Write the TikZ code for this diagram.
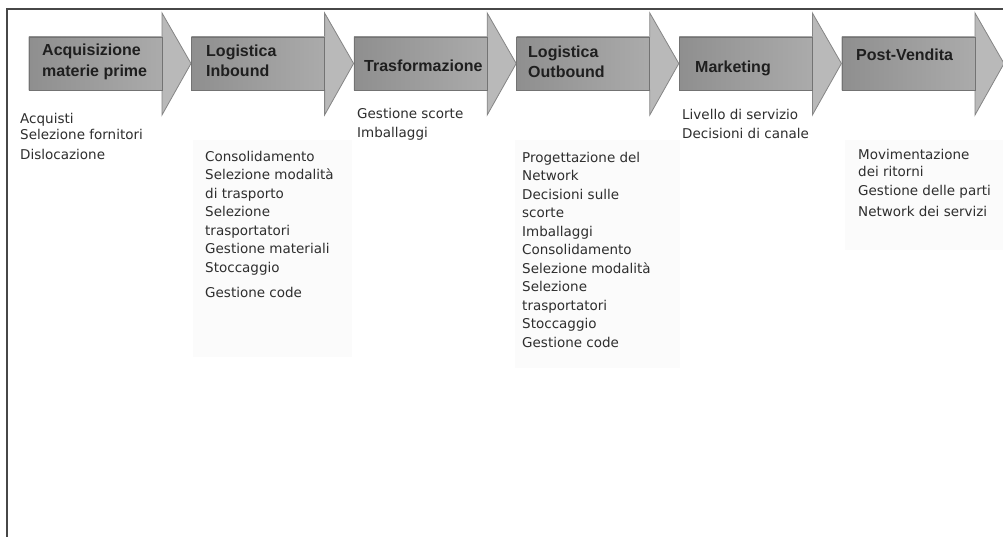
\documentclass[tikz,border=0pt]{standalone}
\usepackage{fontspec}
\newfontfamily\titlefam{Liberation Sans}
\newfontfamily\itemfam{DejaVu Sans}
\newcommand\mytitlefont{\titlefam\bfseries\fontsize{16}{20.5}\selectfont}
\newcommand\myitemfont{\itemfam\fontsize{13.5}{18.5}\selectfont}
\tikzset{
  arrowshape/.style={fill=gray!55, draw=black!48, line width=0.8pt, line join=miter},
  bodybox/.style={left color=gray!88, right color=gray!66, draw=black!55, line width=0.8pt},
  titletext/.style={font=\mytitlefont, text=black!88, align=left, anchor=west, inner sep=0pt},
  itemtext/.style={font=\myitemfont, text=black!82, align=left, anchor=north west, inner sep=0pt},
  panel/.style={fill=gray!3, draw=none},
  frameline/.style={draw=black!72, line width=2pt}
}
\begin{document}
\begin{tikzpicture}[x=1pt,y=-1pt]
\useasboundingbox (0,0) rectangle (1003,537);
\fill[white] (0,0) rectangle (1003,537);
% outer frame (only top and left edges visible)
\draw[frameline] (1003,9) -- (7,9) -- (7,537);
% faint panels behind the lists
\fill[panel] (193,140) rectangle (352,357);
\fill[panel] (515,140) rectangle (680,368);
\fill[panel] (845,140) rectangle (1003,250);
% arrows
\foreach \s in {29,191.6,354.2,516.8,679.4,842}{
  \draw[arrowshape] (\s,37) -- (\s+133,37) -- (\s+133,13) -- (\s+162,63.5)
        -- (\s+133,115) -- (\s+133,90) -- (\s,90) -- cycle;
  \draw[bodybox] (\s,37) rectangle (\s+133,90);
}
% titles
\node[titletext] (t1) at (42,62) {Acquisizione\\materie prime};
\node[titletext] (t2) at (206,61) {Logistica\\Inbound};
\node[titletext] (t3) at (364,66) {Trasformazione};
\node[titletext] (t4) at (528,62) {Logistica\\Outbound};
\node[titletext] (t5) at (695,68) {Marketing};
\node[titletext] (t6) at (856,55) {Post-Vendita};
% lists
\node[itemtext, font=\itemfam\fontsize{13.5}{16.5}\selectfont] (l1) at (20,113)
  {Acquisti\\Selezione fornitori\\[3pt]Dislocazione};
\node[itemtext] (l2) at (205,151)
  {Consolidamento\\Selezione modalità\\di trasporto\\Selezione\\trasportatori\\Gestione materiali\\Stoccaggio\\[6.5pt]Gestione code};
\node[itemtext, font=\itemfam\fontsize{13.5}{19}\selectfont] (l3) at (357,108)
  {Gestione scorte\\Imballaggi};
\node[itemtext] (l4) at (522,152)
  {Progettazione del\\Network\\Decisioni sulle\\scorte\\Imballaggi\\Consolidamento\\Selezione modalità\\Selezione\\trasportatori\\Stoccaggio\\Gestione code};
\node[itemtext, font=\itemfam\fontsize{13.5}{19}\selectfont] (l5) at (682,109)
  {Livello di servizio\\Decisioni di canale};
\node[itemtext, font=\itemfam\fontsize{13.5}{17}\selectfont] (l6) at (858,149)
  {Movimentazione\\dei ritorni\\[2pt]Gestione delle parti\\[4pt]Network dei servizi};
\end{tikzpicture}
\end{document}
